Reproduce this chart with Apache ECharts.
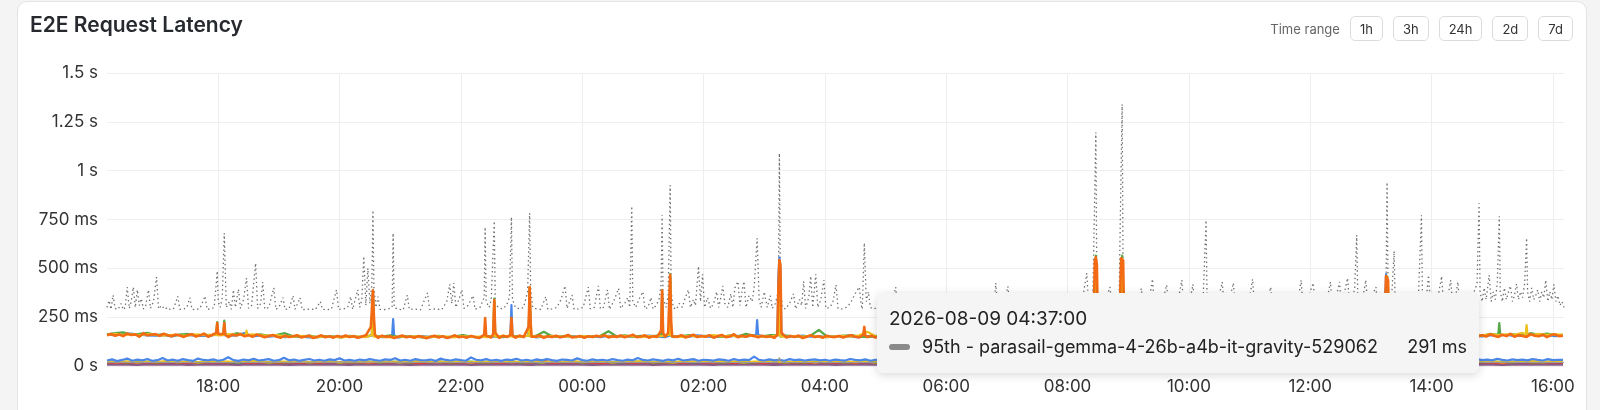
<!DOCTYPE html>
<html><head><meta charset="utf-8">
<script src="https://cdn.jsdelivr.net/npm/echarts@6/dist/echarts.min.js"></script>
<style>
html,body{margin:0;padding:0;width:1600px;height:410px;overflow:hidden;background:#f4f4f5;font-family:Inter,"Noto Sans",sans-serif;}
#card{position:absolute;left:17px;top:1px;width:1570px;height:440px;background:#fff;border:1px solid #e4e4e7;border-radius:10px;box-sizing:border-box;}
#chart{position:absolute;left:0;top:0;width:1600px;height:410px;}
#title{position:absolute;left:30px;top:12px;font-size:21px;font-weight:600;color:#26292e;line-height:26px;white-space:nowrap;}
#range{position:absolute;right:27px;top:16px;display:flex;align-items:center;gap:10px;}
#range .lbl{font-size:13px;color:#666;}
#range .btn{height:25px;box-sizing:border-box;border:1px solid #dcdcdf;border-radius:5px;padding:0 9px;font-size:13px;color:#333;display:flex;align-items:center;justify-content:center;background:#fff;}
#tip{position:absolute;left:877px;top:293px;width:602px;height:80px;box-sizing:border-box;padding:16px 12px;background:#f5f5f5;border-radius:6px;box-shadow:0 2px 10px rgba(0,0,0,0.16);font-family:Inter,"Noto Sans",sans-serif;color:#222;}
#tip .d{height:20px;line-height:20px;white-space:nowrap;font-size:19px;}
#tip .r{margin-top:8px;height:20px;line-height:20px;display:flex;align-items:center;white-space:nowrap;font-size:18px;}
#tip .mk{width:21px;height:6px;border-radius:3px;background:#8a8a8a;margin-right:12px;flex:none;}
#tip .v{margin-left:auto;}
</style></head>
<body>
<div id="card"></div>
<div id="chart"></div>
<div id="title"></div>
<div id="range"></div>
<div id="tip"><div class="d"></div><div class="r"><span class="mk"></span><span class="n"></span><span class="v"></span></div></div>
<script>
// ---------- data ----------
const titleText = 'E2E Request Latency';
const rangeLabel = 'Time range';
const rangeButtons = ['1h', '3h', '24h', '2d', '7d'];
const startTime = [2026, 8, 8, 16, 10];      // 2026-08-08 16:10 (local)
const spanMinutes = 1441;
const xTickLabels = ['18:00','20:00','22:00','00:00','02:00','04:00','06:00','08:00','10:00','12:00','14:00','16:00'];
const yTickValues = [0, 250, 500, 750, 1000, 1250, 1500];
const yTickLabels = ['0 s','250 ms','500 ms','750 ms','1 s','1.25 s','1.5 s'];
const tooltipTime = '2026-08-09 04:37:00';
const tooltipSeries = '95th - parasail-gemma-4-26b-a4b-it-gravity-529062';

// [minute offset from start, latency ms]
const p95Gravity = [[0,300],[2,335],[4,290],[6,363],[8,295],[11,290],[14,320],[16,288],[18,300],[20,404],[22,295],[24,330],[26,404],[28,300],[30,390],[32,310],[34,345],[36,292],[38,300],[41,390],[43,295],[46,330],[49,455],[51,292],[54,310],[57,290],[60,300],[63,288],[66,295],[70,357],[72,290],[76,292],[79,300],[82,350],[84,290],[88,288],[92,295],[97,358],[99,290],[103,292],[106,300],[108,420],[109,486],[110,330],[112,300],[114,350],[116,680],[118,300],[121,330],[123,290],[125,390],[127,300],[130,393],[132,295],[135,340],[138,450],[140,295],[143,310],[147,526],[149,295],[152,320],[154,430],[156,292],[160,300],[165,400],[167,290],[170,300],[174,350],[176,290],[180,292],[184,360],[186,290],[191,350],[193,288],[197,290],[202,292],[206,288],[211,330],[213,290],[217,288],[222,292],[227,390],[229,290],[234,292],[238,300],[241,355],[243,290],[248,390],[250,300],[252,340],[254,562],[256,310],[258,500],[260,320],[262,420],[263,797],[264,400],[266,300],[268,355],[270,290],[274,288],[278,292],[282,300],[283,680],[284,300],[288,290],[293,288],[297,363],[299,290],[304,292],[310,288],[317,375],[319,290],[325,292],[331,288],[336,330],[339,418],[341,320],[343,425],[345,300],[348,340],[351,390],[353,295],[357,310],[362,360],[364,290],[369,300],[373,350],[374,711],[375,330],[378,300],[380,340],[383,741],[384,320],[387,300],[391,292],[395,310],[398,350],[400,762],[401,340],[404,300],[408,292],[412,300],[416,380],[418,782],[419,400],[421,300],[425,292],[429,290],[434,355],[436,290],[440,292],[445,300],[449,340],[453,410],[455,295],[460,363],[462,290],[466,292],[471,300],[476,404],[478,292],[482,300],[486,410],[488,292],[491,300],[495,390],[497,290],[501,330],[506,397],[508,295],[512,320],[515,350],[517,300],[519,818],[520,330],[523,300],[526,340],[530,380],[532,292],[535,300],[538,350],[540,292],[543,310],[546,340],[548,420],[549,772],[550,350],[553,300],[555,360],[557,925],[558,380],[560,300],[563,290],[566,320],[569,300],[572,350],[575,390],[577,300],[580,340],[582,310],[585,511],[587,330],[589,470],[591,300],[594,350],[597,295],[600,320],[603,380],[605,300],[607,350],[609,410],[611,320],[614,300],[617,370],[619,300],[621,400],[624,433],[626,310],[628,380],[630,433],[632,300],[635,360],[638,330],[640,400],[643,654],[645,340],[647,300],[650,380],[653,300],[656,360],[658,295],[661,320],[664,380],[665,1089],[666,400],[668,300],[671,292],[675,320],[679,370],[681,292],[685,340],[687,310],[689,433],[691,295],[694,350],[696,460],[698,300],[701,470],[703,300],[706,340],[709,440],[711,295],[715,300],[718,330],[721,415],[723,295],[727,292],[731,300],[735,320],[738,350],[741,380],[744,404],[746,310],[747,291],[749,629],[751,330],[753,380],[755,300],[758,292],[762,300],[765,292],[770,300],[775,292],[780,404],[782,295],[788,300],[795,292],[803,300],[811,290],[820,295],[828,300],[836,292],[845,300],[853,290],[862,295],[870,300],[877,292],[879,425],[881,300],[886,292],[891,408],[893,295],[900,300],[908,292],[916,300],[924,290],[932,295],[940,300],[948,292],[955,300],[962,330],[966,380],[969,475],[971,300],[975,350],[978,1196],[979,380],[982,300],[986,330],[989,360],[992,404],[994,300],[997,320],[1001,360],[1004,1340],[1005,400],[1008,300],[1012,320],[1016,292],[1020,340],[1023,397],[1025,300],[1029,320],[1032,380],[1034,445],[1036,300],[1040,292],[1044,330],[1048,415],[1050,300],[1054,292],[1058,320],[1061,380],[1063,440],[1065,300],[1069,340],[1072,360],[1074,418],[1076,300],[1080,292],[1084,330],[1087,746],[1088,330],[1091,300],[1095,292],[1099,340],[1103,430],[1105,300],[1109,320],[1112,380],[1114,425],[1116,300],[1120,292],[1125,300],[1129,340],[1131,380],[1133,445],[1135,300],[1139,292],[1143,300],[1147,330],[1151,404],[1153,295],[1158,300],[1163,292],[1168,300],[1173,292],[1178,340],[1181,440],[1183,300],[1187,330],[1190,380],[1193,425],[1195,300],[1199,292],[1204,300],[1207,350],[1210,430],[1212,300],[1215,340],[1219,430],[1221,300],[1224,380],[1227,450],[1229,300],[1232,350],[1234,400],[1236,670],[1237,360],[1240,300],[1243,380],[1245,440],[1247,300],[1250,330],[1253,380],[1255,404],[1257,300],[1260,320],[1263,350],[1265,420],[1266,941],[1267,400],[1270,300],[1273,588],[1274,320],[1277,292],[1281,300],[1285,292],[1290,320],[1294,300],[1297,350],[1300,772],[1301,350],[1304,300],[1307,465],[1309,310],[1312,300],[1316,340],[1320,460],[1322,300],[1325,350],[1327,380],[1329,440],[1331,300],[1334,360],[1336,430],[1338,300],[1341,330],[1344,292],[1348,320],[1352,380],[1355,420],[1357,833],[1358,380],[1360,330],[1362,400],[1364,340],[1367,465],[1369,330],[1371,380],[1373,340],[1375,420],[1377,767],[1378,380],[1380,330],[1382,400],[1384,340],[1386,380],[1388,410],[1390,330],[1392,360],[1394,420],[1396,340],[1398,380],[1400,350],[1402,420],[1404,654],[1405,380],[1407,330],[1409,400],[1411,340],[1413,360],[1415,390],[1417,330],[1419,380],[1421,350],[1423,440],[1425,330],[1427,380],[1429,340],[1431,418],[1433,330],[1435,360],[1437,310],[1439,330],[1441,300]];

// mid band: regular samples (ms) plus listed spikes [minute, ms]
const orangeStep = 4;
const orangeMid = [158,164,155,161,153,166,159,162,150,168,157,160,163,154,165,158,152,161,156,149,
158,163,151,157,166,150,159,155,162,153,148,160,156,164,152,158,150,161,155,147,
153,159,150,145,156,148,152,158,146,151,155,143,150,157,147,152,145,154,149,156,
148,153,145,151,157,146,150,144,155,149,152,143,150,156,147,151,145,153,148,142,
150,155,146,152,144,149,157,147,151,145,154,148,143,152,158,146,150,144,155,149,
151,145,156,148,153,146,150,157,144,152,148,155,147,151,159,146,150,153,145,152,
148,155,150,158,146,152,149,156,147,153,160,148,151,157,145,153,149,162,150,147,
155,149,158,146,152,160,148,154,150,157,145,153,159,148,151,163,147,155,150,158,
153,147,155,149,152,144,151,158,146,154,149,156,143,150,157,148,152,145,155,150,
148,154,146,152,158,150,147,153,149,155,146,151,157,148,153,145,150,156,149,152,
147,153,150,156,146,152,148,155,151,145,153,149,157,147,151,154,146,150,156,148,
152,146,155,149,153,147,151,157,145,150,154,148,152,146,156,150,147,153,149,155,
148,152,146,154,150,157,147,151,153,145,152,149,156,148,151,146,155,150,147,153,
149,155,147,152,146,154,150,157,148,151,145,153,149,156,147,152,150,146,155,149,
152,147,154,150,146,153,149,157,148,151,155,146,152,150,147,154,149,156,148,151,
146,153,150,155,148,152,147,154,151,149,156,147,152,150,155,148,153,146,151,157,
150,148,154,151,147,155,149,152,158,150,147,153,149,156,151,148,154,150,157,152,
158,151,162,155,149,160,153,165,150,158,154,149,163,155,152,160,148,157,162,153,155];
const orangeSpikes = [[108,170],[109,220],[110,165],[115,165],[116,220],[117,160],[261,200],[263,388],[264,250],[265,160],[373,160],[374,245],[375,155],[382,165],[383,337],[384,170],[399,160],[400,245],[401,155],[417,200],[418,404],[419,220],[420,150],[548,180],[549,388],[550,170],[555,170],[557,465],[558,220],[559,152],[663,160],[664,400],[665,542],[666,520],[667,170],[748,160],[749,200],[750,155],[975,160],[976,300],[977,540],[978,557],[979,520],[980,200],[981,152],[1001,160],[1002,350],[1003,552],[1004,552],[1005,540],[1006,200],[1007,152],[1263,160],[1264,300],[1265,460],[1266,465],[1267,440],[1268,180],[1269,152]];

const midStep = 8;
const greenMid = [162,168,172,160,165,170,158,163,155,161,164,157,160,158,163,155,168,160,157,162,
155,160,168,152,150,156,148,153,150,147,155,151,149,154,150,157,148,152,150,146,
150,155,148,152,158,150,147,153,151,149,156,150,147,154,175,152,150,156,148,153,
150,155,178,152,157,150,154,149,156,152,148,153,158,150,155,151,149,157,152,165,
155,152,158,150,156,152,149,155,185,152,150,155,158,151,148,154,150,157,152,149,
153,150,156,148,152,155,150,147,153,151,156,149,152,150,155,148,151,154,150,153,
149,155,151,148,154,150,156,152,149,153,150,155,148,152,157,150,153,149,155,151,
152,148,154,150,156,151,149,153,150,155,148,152,154,150,156,149,153,151,148,155,
150,154,152,157,149,153,150,156,152,160,155,165,158,158,162,156,168,160,166,158,160];
const greenSpikes = [[108,162],[109,225],[110,160],[115,162],[116,232],[117,162],[262,160],[263,380],[264,155],[382,155],[383,345],[384,152],[417,155],[418,400],[419,152],[548,155],[549,380],[550,152],[556,160],[557,470],[558,152],[664,160],[665,535],[666,150],[977,155],[978,565],[979,152],[1003,160],[1004,565],[1005,152],[1265,160],[1266,455],[1267,152],[1376,160],[1377,220],[1378,160]];

const blueMid = [160,158,163,166,160,157,155,158,152,160,158,155,154,158,161,155,157,168,152,156,
150,154,148,152,150,146,148,152,151,149,152,147,150,153,148,150,146,151,149,153,
148,152,146,150,155,149,147,152,150,148,153,149,151,147,150,154,148,152,150,149,
152,148,155,150,153,149,151,156,150,148,152,155,150,157,152,149,154,151,155,150,
158,153,150,155,152,149,156,150,153,148,152,155,150,147,153,151,149,154,150,152,
150,153,148,152,150,155,149,151,153,148,152,150,155,149,152,151,148,153,150,155,
152,148,153,150,155,149,151,154,150,147,152,156,150,148,153,151,149,155,150,152,
150,153,149,152,155,148,151,150,154,149,153,150,148,152,156,150,153,149,151,154,
152,150,155,149,153,151,148,154,150,156,152,158,155,160,153,157,162,155,159,153,156];
const blueSpikes = [[262,155],[263,370],[264,155],[282,155],[283,240],[284,155],[399,155],[400,312],[401,155],[417,155],[418,390],[419,155],[556,155],[557,450],[558,155],[642,158],[643,235],[644,158],[663,155],[664,450],[665,555],[666,500],[667,160],[976,155],[977,300],[978,540],[979,155],[1002,155],[1003,540],[1004,545],[1005,155],[1263,155],[1264,300],[1265,470],[1266,475],[1267,155]];

const yellowMid = [158,165,160,162,158,163,160,155,160,157,156,162,158,160,157,163,160,158,162,158,
155,158,152,150,154,152,148,151,150,147,152,150,148,153,150,147,151,149,152,150,
148,152,150,147,153,149,151,148,150,154,152,149,147,152,150,155,149,151,148,153,
150,155,152,149,154,151,148,153,150,156,152,149,155,150,153,158,151,156,150,153,
155,152,150,156,149,153,151,155,150,148,152,154,150,157,175,152,150,154,149,153,
150,152,148,153,150,155,149,152,150,147,153,151,149,154,150,152,148,151,155,150,
152,149,153,150,147,154,150,152,148,155,151,149,153,150,152,156,149,151,154,150,
150,152,149,154,151,148,153,150,155,149,152,150,153,148,151,155,150,152,149,153,
150,155,152,148,154,151,157,153,160,158,156,164,158,162,160,170,158,165,160,162,160];
const yellowSpikes = [[137,158],[138,181],[139,158],[262,158],[263,370],[264,150],[382,155],[383,330],[384,150],[417,155],[418,395],[419,150],[556,160],[557,460],[558,155],[664,158],[665,530],[666,152],[977,155],[978,550],[979,150],[1003,155],[1004,550],[1005,152],[1265,155],[1266,460],[1267,152],[1403,158],[1404,210],[1405,160]];

// low band
const blueLowStep = 5;
const blueLow = [28,34,25,31,38,27,33,29,36,26,30,41,28,33,27,35,30,26,38,31,
29,34,27,32,45,30,26,33,29,37,28,31,35,27,30,42,29,33,26,31,
36,28,32,27,34,30,39,28,31,26,33,29,36,30,27,34,31,40,28,32,
27,35,30,29,33,26,38,31,28,34,30,27,44,32,29,35,28,31,26,33,
30,37,28,32,27,34,29,36,30,26,33,31,28,39,30,27,34,29,32,28,
35,30,27,33,29,41,31,28,34,30,26,33,29,37,28,31,35,27,32,30,
28,34,31,27,36,29,33,30,48,31,28,34,29,32,27,35,30,33,28,31,
34,29,32,27,33,30,28,36,31,29,34,27,32,30,35,28,31,29,33,30,
29,33,28,32,30,35,27,31,34,29,32,28,36,30,27,33,31,29,34,28,
32,30,35,28,31,29,33,27,34,30,32,29,36,28,31,33,27,30,34,29,
31,28,33,30,35,29,32,27,34,31,29,33,28,36,30,32,29,34,28,31,
30,34,29,32,28,35,31,27,33,30,34,29,31,28,36,30,33,29,32,28,
35,30,32,29,34,28,31,33,29,36,30,27,34,31,29,33,30,35,28,32,
29,34,31,28,36,30,33,29,38,31,28,35,30,33,29,37,31,28,34,30,
33,29,36,31,28,35,30,32,31];
const lowStep = 10;
const yellowLow = [22,20,24,19,23,21,25,20,22,19,24,21,23,20,26,22,19,23,21,24,20,22,25,19,23,21,20,24,22,19,23,26,21,20,24,22,19,23,21,25,20,22,24,19,23,21,26,20,22,24,19,23,21,25,20,22,19,24,21,23,20,26,22,19,23,21,24,20,22,25,19,23,21,24,20,22,19,23,21,24,22,20,23,21,19,24,22,20,23,21,24,19,22,20,23,21,25,20,22,19,23,21,24,20,22,19,23,21,24,20,22,25,19,23,21,20,24,22,19,23,21,24,20,22,26,19,23,21,24,20,22,19,23,21,25,20,22,24,19,23,21,26,20,22,24];
const redLow = [17,19,16,20,18,15,21,17,19,16,18,20,17,22,16,19,18,15,20,17,19,16,21,18,17,20,16,19,18,22,17,15,19,21,16,18,20,17,19,16,21,18,17,30,16,19,18,20,17,15,19,21,16,18,20,17,19,16,22,18,17,20,16,19,18,15,21,17,19,16,18,20,17,19,16,21,18,17,20,16,19,18,22,17,15,19,21,16,18,20,17,19,16,21,18,17,20,16,19,18,22,17,15,19,21,16,18,20,17,19,16,21,18,17,20,16,19,18,22,17,15,19,21,16,18,20,17,19,16,21,18,17,28,16,19,18,20,17,15,19,21,16,18,20,17];
const greenLow = [20,22,19,23,21,18,24,20,22,19,21,23,20,18,22,24,19,21,20,23,18,22,25,19,21,20,23,18,22,21,19,24,20,22,18,21,23,19,20,22,24,18,21,19,23,20,22,18,21,24,19,20,22,23,18,21,19,24,20,22,21,18,23,19,20,22,24,18,21,19,23,20,22,18,21,24,19,20,22,23,18,21,19,24,20,22,21,18,23,19,20,22,24,18,21,19,23,20,22,18,21,24,19,20,22,23,18,21,19,24,20,22,21,18,23,19,20,22,24,18,21,19,23,20,22,18,21,24,19,20,22,23,18,21,19,24,20,22,21,18,23,19,20,22,24];
const purpleLow = [9,10,9,8,10,9,9,10,8,9,10,9,9,8,10,9,10,9,8,9,9,10,9,9,8,10,9,9,10,9,8,9,10,9,9,10,8,9,9,10,9,9,8,10,9,9,10,9,8,9,10,9,9,10,8,9,9,10,9,9,8,10,9,9,10,9,8,9,10,9,9,10,8,9,9,10,9,9,8,10,9,9,10,9,8,9,10,9,9,10,8,9,9,10,9,9,8,10,9,9,10,9,8,9,10,9,9,10,8,9,9,10,9,9,8,10,9,9,10,9,8,9,10,9,9,10,8,9,9,10,9,9,8,10,9,9,10,9,8,9,10,9,9,10,9];
const p50Gravity = [[0,19],[120,18],[240,20],[360,18],[480,19],[600,18],[663,19],[665,42],[667,19],[780,18],[900,19],[1020,18],[1140,19],[1260,18],[1380,19],[1441,18]];

// ---------- build ----------
const T0 = new Date(startTime[0], startTime[1]-1, startTime[2], startTime[3], startTime[4]).getTime();
const MIN = 60000;
const toPts = arr => arr.map(p => [T0 + p[0]*MIN, p[1]]);
const stepped = (arr, step) => toPts(arr.map((v, i) => [i*step, v]));
const withSpikes = (arr, step, spikes) => {
  const grid = arr.map((v, i) => [i*step, v]).filter(p => !spikes.some(s => Math.abs(s[0]-p[0]) <= 1));
  return toPts(grid.concat(spikes).sort((a, b) => a[0] - b[0]));
};
const xTicks = xTickLabels.map(l => {
  const [h, m] = l.split(':').map(Number);
  const d = new Date(startTime[0], startTime[1]-1, startTime[2], h, m).getTime();
  return d < T0 ? d + 24*60*MIN : d;
});
const pad = n => String(n).padStart(2, '0');
const fmtMs = v => v >= 1000 ? (v/1000) + ' s' : (v === 0 ? '0 s' : Math.round(v) + ' ms');

document.getElementById('title').textContent = titleText;
const rng = document.getElementById('range');
rng.innerHTML = '<span class="lbl">' + rangeLabel + '</span>' + rangeButtons.map(b => '<span class="btn">' + b + '</span>').join('');

const lineS = (name, data, color, width, z) => ({
  name, type: 'line', data, showSymbol: false, symbol: 'none', z: z || 2,
  lineStyle: { color, width, join: 'round' }, itemStyle: { color }, emphasis: { disabled: true }, animation: false
});

const series = [
  Object.assign(lineS(tooltipSeries, toPts(p95Gravity), '#707070', 1.3, 2), { lineStyle: { color: '#6e6e6e', width: 1.3, type: [1.4, 3] } }),
  lineS('50th - purple', stepped(purpleLow, lowStep), '#8a5a86', 3, 3),
  lineS('50th - red', stepped(redLow, lowStep), '#dc4437', 2.2, 3),
  lineS('50th - green', stepped(greenLow, lowStep), '#55a845', 2.2, 3),
  lineS('50th - yellow', stepped(yellowLow, lowStep), '#ecc11c', 2.2, 3),
  lineS('50th - blue', stepped(blueLow, blueLowStep), '#4a86e8', 2.2, 3),
  lineS('50th - parasail-gemma-4-26b-a4b-it-gravity-529062', toPts(p50Gravity), '#9a9a9a', 1.2, 3),
  lineS('95th - blue', withSpikes(blueMid, midStep, blueSpikes), '#4a86e8', 2.2, 4),
  lineS('95th - green', withSpikes(greenMid, midStep, greenSpikes), '#55a845', 2.2, 4),
  lineS('95th - yellow', withSpikes(yellowMid, midStep, yellowSpikes), '#ecc11c', 2.2, 4),
  lineS('95th - orange', withSpikes(orangeMid, orangeStep, orangeSpikes), '#f26b14', 2.6, 5)
];

const chart = echarts.init(document.getElementById('chart'), null, { renderer: 'canvas' });
chart.setOption({
  animation: false,
  backgroundColor: 'transparent',
  textStyle: { fontFamily: 'Inter' },
  grid: { left: 107, right: 36, top: 73, bottom: 44, outerBoundsMode: 'none', containLabel: false },
  xAxis: {
    type: 'value', min: T0, max: T0 + spanMinutes*MIN,
    axisLine: { show: false }, axisTick: { show: false, customValues: xTicks },
    axisLabel: { customValues: xTicks, fontSize: 17, color: '#333', margin: 12, fontFamily: 'Inter',
      formatter: v => { const d = new Date(v); return pad(d.getHours()) + ':' + pad(d.getMinutes()); } },
    splitLine: { show: true, lineStyle: { color: '#eeeeee', width: 1 } }
  },
  yAxis: {
    type: 'value', min: 0, max: 1500, interval: 250,
    axisLine: { show: false }, axisTick: { show: false },
    axisLabel: { fontSize: 17, color: '#333', margin: 9, fontFamily: 'Inter',
      formatter: v => { const i = yTickValues.indexOf(v); return i >= 0 ? yTickLabels[i] : fmtMs(v); } },
    splitLine: { lineStyle: { color: '#eeeeee', width: 1 } }
  },
  series
});

// tooltip (static, as in the reference screenshot)
const tipDate = new Date(tooltipTime.replace(' ', 'T'));
const tipMin = Math.round((tipDate.getTime() - T0) / MIN);
const tipPoint = p95Gravity.find(p => p[0] === tipMin);
const tip = document.getElementById('tip');
tip.querySelector('.d').textContent = tooltipTime;
tip.querySelector('.n').textContent = tooltipSeries;
tip.querySelector('.v').textContent = fmtMs(tipPoint ? tipPoint[1] : 0);
</script>
</body></html>
